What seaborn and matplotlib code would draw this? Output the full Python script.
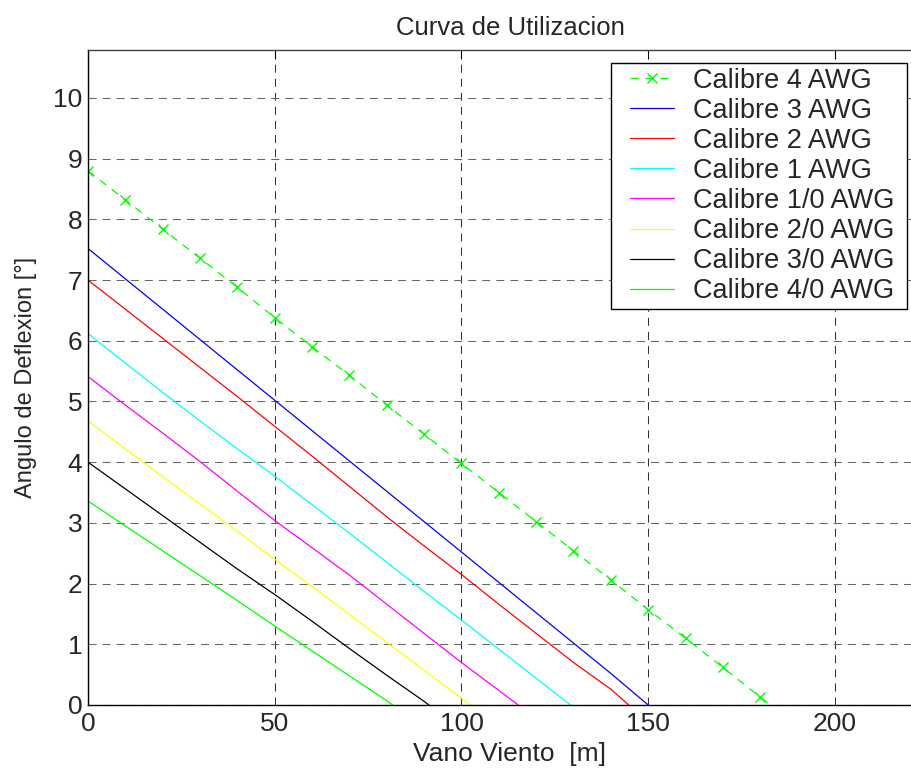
import matplotlib
matplotlib.use("Agg")
import matplotlib.pyplot as plt
from matplotlib.lines import Line2D
from matplotlib.legend_handler import HandlerLine2D
import seaborn as sns
import pandas as pd

# Vano viento [m] vs ángulo de deflexión [°] for each conductor gauge
x_4awg = [0, 10, 20, 30, 40, 50, 60, 70, 80, 90, 100, 110, 120, 130, 140, 150, 160, 170, 180, 182.7]
y_4awg = [8.80, 8.32, 7.84, 7.36, 6.88, 6.38, 5.90, 5.43, 4.94, 4.46, 3.98, 3.50, 3.02, 2.54, 2.06, 1.57, 1.10, 0.62, 0.13, 0.0]

x_3awg = [0, 10, 20, 30, 40, 50, 60, 70, 80, 90, 100, 110, 120, 130, 140, 150]
y_3awg = [7.52, 7.02, 6.52, 6.02, 5.52, 5.02, 4.52, 4.02, 3.52, 3.02, 2.52, 2.02, 1.52, 1.02, 0.52, 0.0]

x_2awg = [0, 10, 20, 30, 40, 50, 60, 70, 80, 90, 100, 110, 120, 130, 140, 144.8]
y_2awg = [7.00, 6.52, 6.04, 5.56, 5.08, 4.59, 4.10, 3.60, 3.10, 2.62, 2.15, 1.66, 1.18, 0.70, 0.26, 0.0]

x_1awg = [0, 10, 20, 30, 40, 50, 60, 70, 80, 90, 100, 110, 120, 129.2]
y_1awg = [6.12, 5.63, 5.15, 4.68, 4.22, 3.77, 3.30, 2.83, 2.35, 1.87, 1.40, 0.92, 0.44, 0.0]

x_10awg = [0, 10, 20, 30, 40, 50, 60, 70, 80, 90, 100, 110, 115.2]
y_10awg = [5.41, 4.94, 4.48, 4.01, 3.52, 3.04, 2.59, 2.14, 1.66, 1.18, 0.70, 0.24, 0.0]

x_20awg = [0, 10, 20, 30, 40, 50, 60, 70, 80, 90, 100, 102.5]
y_20awg = [4.68, 4.22, 3.76, 3.31, 2.86, 2.40, 1.95, 1.49, 1.03, 0.57, 0.11, 0.0]

x_30awg = [0, 10, 20, 30, 40, 50, 60, 70, 80, 90, 91.3]
y_30awg = [4.00, 3.56, 3.12, 2.68, 2.24, 1.82, 1.38, 0.93, 0.49, 0.06, 0.0]

x_40awg = [0, 10, 20, 30, 40, 50, 60, 70, 80, 81.6]
y_40awg = [3.36, 2.95, 2.54, 2.13, 1.72, 1.30, 0.89, 0.48, 0.07, 0.0]

labels = ["Calibre 4 AWG", "Calibre 3 AWG", "Calibre 2 AWG", "Calibre 1 AWG",
          "Calibre 1/0 AWG", "Calibre 2/0 AWG", "Calibre 3/0 AWG", "Calibre 4/0 AWG"]
colors = ["#00ff00", "#0000ff", "#ff0000", "#00ffff",
          "#ff00ff", "#ffff00", "#000000", "#00ff00"]
xs = [x_4awg, x_3awg, x_2awg, x_1awg, x_10awg, x_20awg, x_30awg, x_40awg]
ys = [y_4awg, y_3awg, y_2awg, y_1awg, y_10awg, y_20awg, y_30awg, y_40awg]

x_ticks = [0, 50, 100, 150, 200]
y_ticks = [0, 1, 2, 3, 4, 5, 6, 7, 8, 9, 10]


class OffsetLineHandler(HandlerLine2D):
    """Legend line sample shifted right, leaving a blank gap before it."""

    def __init__(self, gap_px, **kw):
        super().__init__(**kw)
        self.gap_px = gap_px

    def create_artists(self, legend, orig_handle, xdescent, ydescent,
                       width, height, fontsize, trans):
        return super().create_artists(legend, orig_handle,
                                      xdescent - self.gap_px, ydescent,
                                      width - self.gap_px, height,
                                      fontsize, trans)


sns.set_style("white")
plt.rcParams["font.family"] = ["Liberation Sans", "DejaVu Sans"]

W, H = 912, 778
ax_left, ax_right, ax_top, ax_bottom = 88, 932, 50, 705   # pixel box of the plot area

fig = plt.figure(figsize=(W / 100, H / 100), dpi=100)
ax = fig.add_axes([ax_left / W, 1 - ax_bottom / H,
                   (ax_right - ax_left) / W, (ax_bottom - ax_top) / H])

for i, (xv, yv, lab, col) in enumerate(zip(xs, ys, labels, colors)):
    df = pd.DataFrame({"x": xv, "y": yv})
    if i == 0:
        sns.lineplot(data=df, x="x", y="y", ax=ax, color=col, label=lab,
                     linewidth=0.9, linestyle=(0, (6.5, 5.5)), marker="x",
                     markersize=7.5, markeredgewidth=1.0, markeredgecolor=col,
                     markevery=list(range(len(xv) - 1)), sort=False)
    else:
        sns.lineplot(data=df, x="x", y="y", ax=ax, color=col, label=lab,
                     linewidth=0.9, sort=False)

ax.set_xlim(0, 226)
ax.set_ylim(0, 10.79)
ax.set_xticks(x_ticks)
ax.set_yticks(y_ticks)
ax.set_xticklabels([str(t) for t in x_ticks])
ax.set_yticklabels([str(t) for t in y_ticks])

ax.xaxis.grid(True, color="0.2", linestyle=(0, (7.7, 5.8)), linewidth=0.75)
ax.yaxis.grid(True, color="0.4", linestyle=(0, (7.7, 5.8)), linewidth=0.75)
ax.set_axisbelow(True)

ax.tick_params(axis="both", which="major", direction="in", length=6.5, width=0.75,
               labelsize=19, top=True, right=True, color="black")
ax.tick_params(axis="x", pad=5)
ax.tick_params(axis="y", pad=4)
for side in ["left", "bottom", "top", "right"]:
    ax.spines[side].set_color("black")
    ax.spines[side].set_linewidth(1.0)
ax.spines["top"].set_color("0.25")

ax.set_title("Curva de Utilizacion", fontsize=18.5, pad=11)
ax.set_xlabel("Vano Viento  [m]", fontsize=19, labelpad=4)
ax.set_ylabel("Angulo de Deflexion [°]", fontsize=17, labelpad=11.5)

# legend frame spans a fixed pixel box; content is left-aligned inside it
leg_fs = 19.5
fs_px = leg_fs * 100 / 72
box_l, box_r, box_t, box_b = 611, 907, 63, 307
pad_px = 4.7
gap_px = 626 - (box_l + pad_px)
sx = ax_right - ax_left
sy = ax_bottom - ax_top
leg = ax.legend(loc="upper left",
                bbox_to_anchor=((box_l - ax_left) / sx, (ax_bottom - box_b) / sy,
                                (box_r - box_l) / sx, (box_b - box_t) / sy),
                mode="expand", borderaxespad=0, fontsize=leg_fs, frameon=True,
                fancybox=False, shadow=False,
                handlelength=(gap_px + 48) / fs_px, handletextpad=19 / fs_px,
                labelspacing=0.15, borderpad=pad_px / fs_px,
                handler_map={Line2D: OffsetLineHandler(gap_px)})
leg.get_frame().set_edgecolor("black")
leg.get_frame().set_linewidth(1.0)
leg.get_frame().set_facecolor("white")
leg.get_frame().set_alpha(1.0)

fig.savefig("out.png", dpi=100)
